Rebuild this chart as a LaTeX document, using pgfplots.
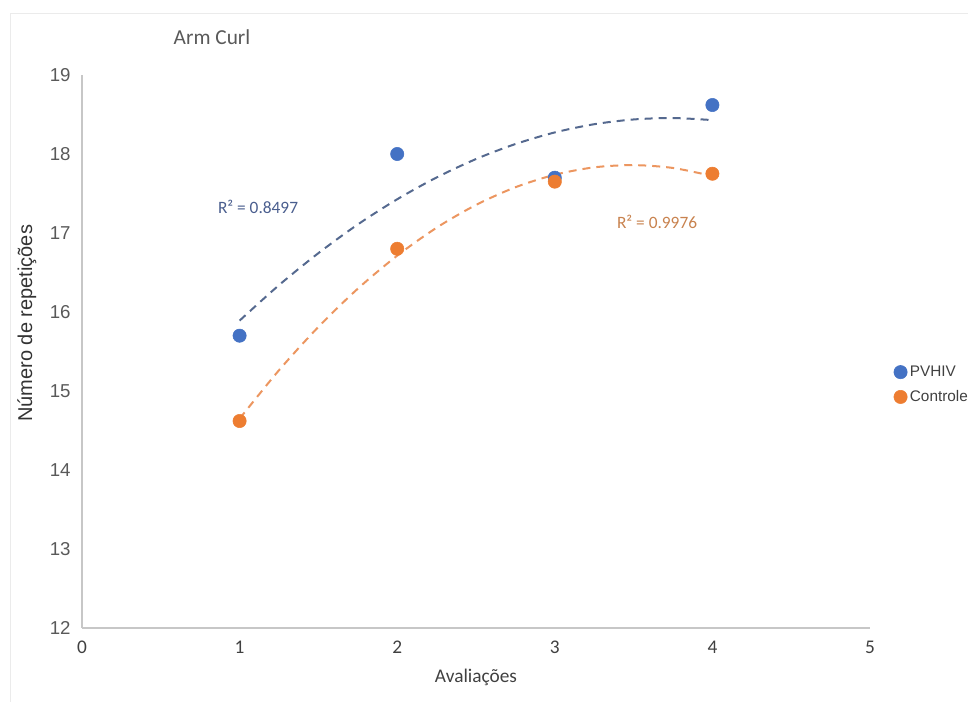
\documentclass[border=0pt]{standalone}
\usepackage{pgfplots}
\pgfplotsset{compat=1.18}
\usepackage{fontspec}
\setmainfont{Carlito}
\newfontfamily\arialf{Liberation Sans}
\definecolor{cblue}{HTML}{4472C4}
\definecolor{corange}{HTML}{ED7D31}
\definecolor{tblue}{HTML}{55698F}
\definecolor{torange}{HTML}{EC9660}
\definecolor{rblue}{HTML}{4A5E8E}
\definecolor{rorange}{HTML}{C8824E}
\definecolor{txt}{HTML}{595959}
\begin{document}
\begin{tikzpicture}
\path[use as bounding box] (0,0) rectangle (726pt,526.5pt);
\draw[black!8, line width=0.6pt] (7.5pt,0pt) -- (7.5pt,516.75pt) -- (726pt,516.75pt);
\begin{axis}[
  at={(61.5pt,55.5pt)}, anchor=south west,
  scale only axis, width=591pt, height=414.75pt,
  xmin=0, xmax=5, ymin=12, ymax=19,
  xtick={0,1,2,3,4,5}, ytick={12,13,14,15,16,17,18,19},
  axis x line*=bottom, axis y line*=left,
  axis line style={draw=black!22, line width=0.9pt},
  major tick length=0pt,
  /pgf/number format/assume math mode=true,
  yticklabel style={font=\arialf\fontsize{14}{16}\selectfont, text=txt, xshift=-5pt},
  xticklabel style={font=\fontsize{14.5}{16}\selectfont, text=black!75, yshift=-6pt},
  xlabel={Avaliações},
  xlabel style={font=\fontsize{14.5}{16}\selectfont, text=black!75, at={(axis description cs:0.5,0)}, anchor=center, yshift=-37pt},
  ylabel={Número de repetições},
  ylabel style={font=\arialf\fontsize{15}{17}\selectfont, text=black!80, at={(axis description cs:-0.07,0.551)}, anchor=center},
  title={Arm Curl},
  title style={font=\fontsize{16}{18}\selectfont, text=txt, at={(axis description cs:0.165,1.054)}, anchor=center},
  legend style={at={(axis description cs:1.03,0.44)}, anchor=west, draw=none, fill=none,
    font=\arialf\fontsize{11.5}{13}\selectfont, text=black!75, row sep=5pt, inner sep=0pt,
    /tikz/every even column/.append style={column sep=1pt}},
  legend cell align=left,
  legend image code/.code={\draw[#1] plot coordinates {(0pt,0pt)};},
  clip=false,
]
% polynomial (order 2) trendlines, values computed from the least-squares fit
\addplot[forget plot, smooth, tblue, line width=1.5pt, dash pattern=on 6pt off 4.5pt] coordinates {
(1,15.891) (1.25,16.340) (1.5,16.745) (1.75,17.108) (2,17.427) (2.25,17.703) (2.5,17.936)
(2.75,18.126) (3,18.273) (3.25,18.377) (3.5,18.437) (3.75,18.455) (4,18.429)};
\addplot[forget plot, smooth, torange, line width=1.5pt, dash pattern=on 6pt off 4.5pt] coordinates {
(1,14.649) (1.25,15.263) (1.5,15.811) (1.75,16.295) (2,16.713) (2.25,17.067) (2.5,17.355)
(2.75,17.579) (3,17.737) (3.25,17.831) (3.5,17.859) (3.75,17.823) (4,17.721)};
\addplot[only marks, mark=*, mark size=5pt, cblue, mark options={fill=cblue, draw=cblue}] coordinates {
(1,15.70) (2,18.00) (3,17.70) (4,18.62)};
\addlegendentry{PVHIV}
\addplot[only marks, mark=*, mark size=5pt, corange, mark options={fill=corange, draw=corange}] coordinates {
(1,14.62) (2,16.80) (3,17.65) (4,17.75)};
\addlegendentry{Controle}
\node[font=\fontsize{13}{15}\selectfont, text=rblue] at (axis cs:1.117,17.33) {R² = 0.8497};
\node[font=\fontsize{13}{15}\selectfont, text=rorange] at (axis cs:3.649,17.14) {R² = 0.9976};
\end{axis}
\end{tikzpicture}
\end{document}
